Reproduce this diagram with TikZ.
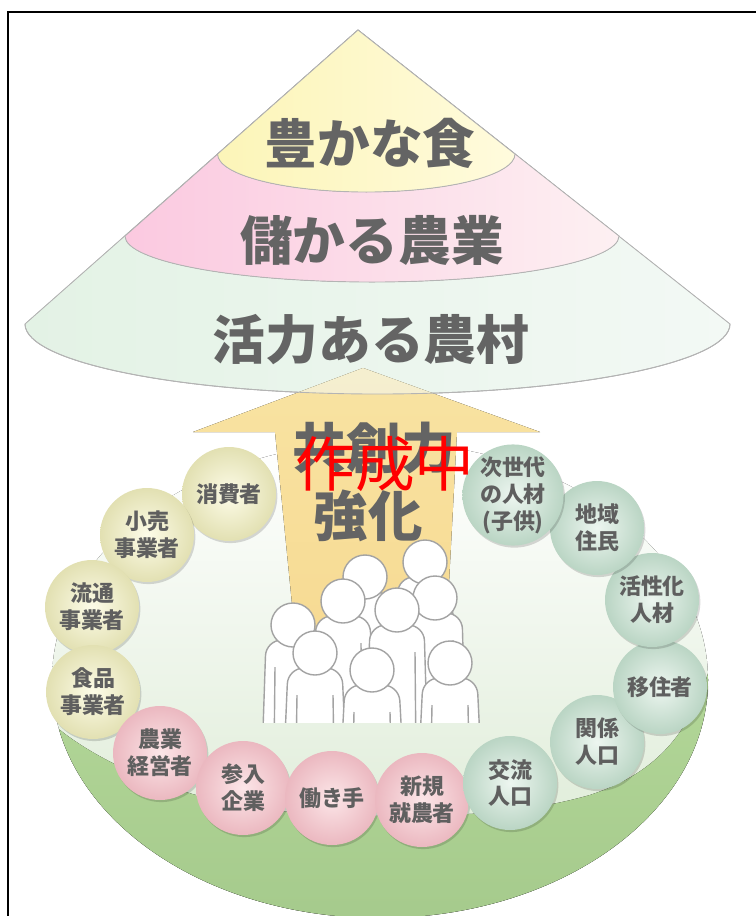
\documentclass[tikz,border=0pt]{standalone}
\usepackage{fontspec}
\usetikzlibrary{shadows}
\newfontfamily\jpfont{Noto Sans CJK JP}
\newcommand\conefont{\jpfont\bfseries\fontsize{30}{33}\selectfont}
\newcommand\arrowfont{\jpfont\bfseries\fontsize{31}{33}\selectfont}
\newcommand\ballfont{\jpfont\bfseries\fontsize{12.5}{15.3}\selectfont}
\newcommand\stampfont{\jpfont\fontsize{34}{36}\selectfont}

\definecolor{muraL}{HTML}{E3F2E5}
\definecolor{muraR}{HTML}{F3F9F5}
\definecolor{nogyoL}{HTML}{FBC9E0}
\definecolor{nogyoR}{HTML}{FDF0F2}
\definecolor{shokuL}{HTML}{FCF5B8}
\definecolor{shokuR}{HTML}{FFFBDD}
\definecolor{coneline}{HTML}{B4B4B4}
\definecolor{conetext}{HTML}{646464}
\definecolor{arrowtop}{HTML}{F8E3A2}
\definecolor{arrowmid}{HTML}{F4C864}
\definecolor{arrowbot}{HTML}{F7D88F}
\definecolor{bowllight}{HTML}{D9E9D1}
\definecolor{bowldarkA}{HTML}{B4D899}
\definecolor{bowldarkB}{HTML}{A5CA8C}
\definecolor{personline}{HTML}{A3A3A3}
\definecolor{balltext}{HTML}{5F5F5F}
\definecolor{yin}{HTML}{FDFCE8}
\definecolor{yout}{HTML}{E2E0B2}
\definecolor{pin}{HTML}{FCE6E8}
\definecolor{pout}{HTML}{EBB8C0}
\definecolor{gin}{HTML}{EDF6F0}
\definecolor{gout}{HTML}{BAD5C4}

\tikzset{
  conelayer/.style={draw=coneline, line width=0.5pt},
  conelabel/.style={font=\conefont, text=conetext},
  orb/.style={circle, minimum size=1.88cm, inner sep=0pt, align=center,
    font=\ballfont, text=balltext,
    drop shadow={shadow xshift=0.8pt, shadow yshift=-1.2pt, opacity=0.15, fill=black}},
  yorb/.style={orb, inner color=yin, outer color=yout},
  porb/.style={orb, inner color=pin, outer color=pout},
  gorb/.style={orb, inner color=gin, outer color=gout},
  person/.style={fill=white, draw=personline, line width=0.8pt},
}

\begin{document}
\begin{tikzpicture}[x=0.02cm, y=-0.02cm]
\useasboundingbox (0,0) rectangle (755,916);
% frame
\draw[line width=1.1pt] (8,930) -- (8,12) -- (770,12);

%%% Draws the bowl
\fill[top color=white, bottom color=bowllight] (380,680) ellipse[x radius=328, y radius=238];
\begin{scope}
\clip (380,680) ellipse[x radius=328, y radius=238];
\fill[top color=bowldarkA, bottom color=bowldarkB] (40,715) -- (60,730)
  .. controls (110,770) and (200,805) .. (290,812)
  .. controls (330,815) and (360,816) .. (385,816)
  .. controls (470,816) and (530,812) .. (590,795)
  .. controls (650,775) and (690,740) .. (712,660)
  -- (770,640) -- (770,930) -- (0,930) -- cycle;
\end{scope}

%%% Draws the cone
\coordinate (apex) at (358,30);
\filldraw[conelayer, left color=muraL, right color=muraR] (apex) -- (25,324)
  arc[start angle=180, end angle=0, x radius=352.5, y radius=70] -- cycle;
\filldraw[conelayer, left color=nogyoL, right color=nogyoR] (apex) -- (125,236)
  arc[start angle=180, end angle=0, x radius=247, y radius=46] -- cycle;
\filldraw[conelayer, left color=shokuL, right color=shokuR] (apex) -- (217.6,154)
  arc[start angle=180, end angle=0, x radius=148.7, y radius=38] -- cycle;

%%% Draws the arrow
\fill[top color=arrowtop, middle color=arrowmid, bottom color=arrowbot]
  (363,368) -- (540,432) -- (457,432) -- (442,715) -- (303,715) -- (275,432) -- (193,432) -- cycle;
% tip fades under the cone
\begin{scope}
\clip (apex) -- (25,324) arc[start angle=180, end angle=0, x radius=352.5, y radius=70] -- cycle;
\fill[muraR, opacity=0.55] (363,368) -- (540,432) -- (193,432) -- cycle;
\end{scope}
\draw[coneline, line width=0.5pt] (25,324) arc[start angle=180, end angle=0, x radius=352.5, y radius=70];

% labels layers
\node[conelabel] (shoku) at (370,143) {豊かな食};
\node[conelabel] (nogyo) at (372,240) {儲かる農業};
\node[conelabel] (noson) at (371,340) {活力ある農村};

%%% Draws the people
\begin{scope}
\clip (240,520) rectangle (490,722);
\foreach \x/\y in {425/562, 365/577, 435/598, 343/601, 397/610, 293/625, 315/653, 450/663, 372/670} {
  \filldraw[person, rounded corners=9pt] (\x-31,760) -- (\x-27,\y+15) -- (\x+27,\y+15) -- (\x+31,760) -- cycle;
  \draw[personline, line width=0.8pt] (\x-18,\y+42) -- (\x-19,760) (\x+18,\y+42) -- (\x+19,760);
  \filldraw[person] (\x,\y) circle[radius=22];
}
\end{scope}

% labels arrow
\node[font=\arrowfont, text=conetext] (kyoso) at (374,448) {共創力};
\node[font=\arrowfont, text=conetext] (kyoka) at (368,516) {強化};

%%% Draws the balls
% food side
\node[yorb] (shohi) at (229,494) {消費者};
\node[yorb] (kouri) at (147,535) {小売\\事業者};
\node[yorb] (ryutsu) at (92,607) {流通\\事業者};
\node[yorb] (shokuhin) at (93,692) {食品\\事業者};
% farming side
\node[porb] (keiei) at (160,753) {農業\\経営者};
\node[porb] (sannyu) at (243,788) {参入\\企業};
\node[porb] (hataraki) at (332,798) {働き手};
\node[porb] (shinki) at (422,800) {新規\\就農者};
% village side
\node[gorb] (koryu) at (510,783) {交流\\人口};
\node[gorb] (kankei) at (597,742) {関係\\人口};
\node[gorb] (ijusha) at (660,687) {移住者};
\node[gorb] (kasseika) at (652,600) {活性化\\人材};
\node[gorb] (chiiki) at (597,528) {地域\\住民};
\node[gorb] (jisedai) at (513,495) {次世代\\の人材\\(子供)};

% stamp
\node[font=\stampfont, text=red] (sakusei) at (385,464) {作成中};
\end{tikzpicture}
\end{document}
